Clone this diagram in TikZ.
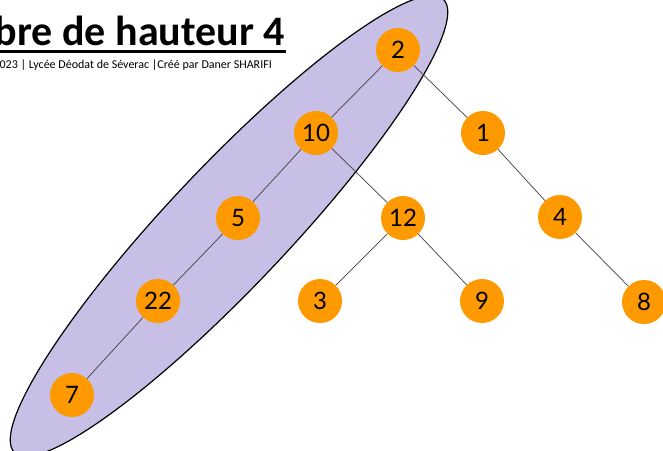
\documentclass[tikz,border=0pt]{standalone}
\usepackage{fontspec}
\setmainfont{Carlito}
\newfontfamily\digitfont{Lato}
\definecolor{nodeorange}{RGB}{255,153,0}
\definecolor{lavender}{RGB}{199,191,229}
\definecolor{edgegray}{RGB}{64,64,64}
\tikzset{
  treenode/.style={circle, fill=nodeorange, minimum size=44pt, inner sep=0pt,
    font=\digitfont\fontsize{24}{24}\selectfont},
  treeedge/.style={draw=edgegray, line width=0.7pt},
}
\begin{document}
\begin{tikzpicture}[x=1pt, y=-1pt]
\useasboundingbox (0,0) rectangle (663,450);
\clip (0,0) rectangle (663,450);
\fill[white] (0,0) rectangle (663,450);

% highlighted branch of height 4
\begin{scope}[shift={(229,226)}, rotate=46.6]
  \draw[fill=lavender, line width=1.2pt] (0,0) ellipse [x radius=312pt, y radius=60pt];
\end{scope}

% title and credits
\node[anchor=base east, inner sep=0pt, font=\fontsize{42}{42}\selectfont\bfseries] (title) at (285,45) {Arbre de hauteur 4};
\draw[line width=2.5pt] (0,51.5) -- (286,51.5);
\node[anchor=base east, inner sep=0pt, font=\fontsize{12}{12}\selectfont] (credits) at (272,68) {023 | Lycée Déodat de Séverac |Créé par Daner SHARIFI};

% tree nodes
\node[treenode] (n2)  at (398,50)  {2};
\node[treenode] (n10) at (316,133) {10};
\node[treenode] (n1)  at (483,133) {1};
\node[treenode] (n5)  at (238,218) {5};
\node[treenode] (n12) at (403,218) {12};
\node[treenode] (n4)  at (560,217) {4};
\node[treenode] (n22) at (158,301) {22};
\node[treenode] (n3)  at (320,301) {3};
\node[treenode] (n9)  at (482,301) {9};
\node[treenode] (n8)  at (644,302) {8};
\node[treenode] (n7)  at (72,395)  {7};

% edges
\draw[treeedge] (n2) -- (n10);
\draw[treeedge] (n2) -- (n1);
\draw[treeedge] (n10) -- (n5);
\draw[treeedge] (n10) -- (n12);
\draw[treeedge] (n1) -- (n4);
\draw[treeedge] (n5) -- (n22);
\draw[treeedge] (n12) -- (n3);
\draw[treeedge] (n12) -- (n9);
\draw[treeedge] (n4) -- (n8);
\draw[treeedge] (n22) -- (n7);
\end{tikzpicture}
\end{document}
